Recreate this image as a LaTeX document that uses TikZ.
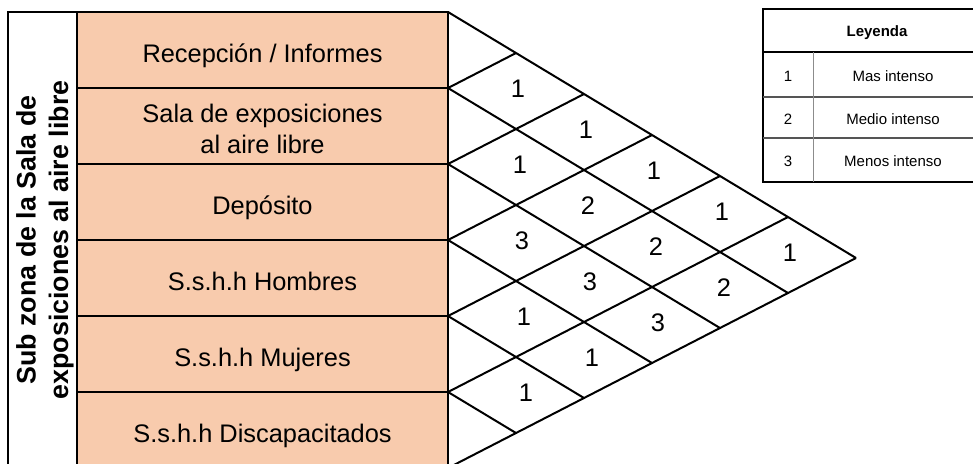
\documentclass[tikz,border=0pt]{standalone}
\usepackage{fontspec}
\setmainfont{Liberation Sans}
\usetikzlibrary{positioning,calc}
\definecolor{peach}{HTML}{F8CBAD}
\definecolor{legline}{HTML}{555555}
\definecolor{legsplit}{HTML}{8C8C8C}

\begin{document}
\begin{tikzpicture}[
  x=0.5pt, y=-0.5pt,
  line width=1pt,
  rowbox/.style={draw, fill=peach, anchor=north west, outer sep=0pt, inner sep=0pt,
                 minimum width=185.5pt, minimum height=38pt},
  rowtext/.style={inner sep=0pt, align=center, text depth=0pt,
                  font=\fontsize{12.7}{15.5}\selectfont},
  titlebox/.style={draw, anchor=north west, outer sep=0pt,
                   minimum width=34.5pt, minimum height=234pt},
  titletext/.style={rotate=90, align=center, inner sep=0pt,
                    font=\bfseries\fontsize{13.4}{16.2}\selectfont},
  gridline/.style={line width=1pt, line join=miter},
  num/.style={inner sep=0pt, font=\fontsize{12.7}{15}\selectfont},
  legtitle/.style={inner sep=0pt, font=\bfseries\fontsize{7.5}{9}\selectfont},
  legtext/.style={inner sep=0pt, font=\fontsize{7.5}{9}\selectfont},
]
\useasboundingbox (0,0) rectangle (973,463);
\clip (0,0) rectangle (973,463);

%% ---- side title -----------------------------------------------------------
\node[titlebox] (side) at (8,12) {};
\node[titletext] (title) at (45,240) {Sub zona de la Sala de\\exposiciones al aire libre};

%% ---- rows (second value: text height, one or two lines) -------------------
\foreach \txt/\h [count=\i from 0] in {{Recepción / Informes}/9.1,
    {Sala de exposiciones\\al aire libre}/24.6, {Depósito}/9.1,
    {S.s.h.h Hombres}/9.1, {S.s.h.h Mujeres}/9.1,
    {S.s.h.h Discapacitados}/9.1} {
  \node[rowbox] (row\i) at (77,{12+76*\i}) {};
  \node[rowtext, text height=\h pt] (lab\i) at ($(row\i.center)+(0,3)$) {\txt};
}

%% ---- matrix points: row edges, top side, bottom side ----------------------
\foreach \k in {0,...,6} {
  \coordinate (p\k) at (448,{12+76*\k});
  \coordinate (t\k) at ({448+68*\k},{12+41*\k});
  \coordinate (b\k) at ({448+68*\k},{468-35*\k});
}

%% ---- matrix lines ---------------------------------------------------------
\foreach \k [evaluate=\k as \m using int(6-\k)] in {0,...,5}
  \draw[gridline] (p\k) -- (b\m);
\foreach \k in {1,...,6}
  \draw[gridline] (p\k) -- (t\k);

%% ---- relation values ------------------------------------------------------
\foreach \r/\s/\v in {0/1/1, 0/2/1, 0/3/1, 0/4/1, 0/5/1,
                      1/2/1, 1/3/2, 1/4/2, 1/5/2,
                      2/3/3, 2/4/3, 2/5/3,
                      3/4/1, 3/5/1,
                      4/5/1}
  \node[num] (v\r\s) at ({450+68*(\s-\r)+2*\r},{48+76*\r+41*(\s-\r)}) {\v};

%% ---- legend ---------------------------------------------------------------
\draw[line width=1pt] (763,9) rectangle (990,182);
\draw[line width=1pt] (763,52) -- (990,52);
\draw[line width=0.8pt, legline] (763,97) -- (990,97);
\draw[line width=0.8pt, legline] (763,138) -- (990,138);
\draw[line width=0.5pt, legsplit] (813,52) -- (813,182);
\node[legtitle] (ley) at (877,33) {Leyenda};
\foreach \n/\d/\y in {1/Mas intenso/76, 2/Medio intenso/119, 3/Menos intenso/161} {
  \node[legtext] (key\n) at (788,\y) {\n};
  \node[legtext] (desc\n) at (893,\y) {\d};
}

\end{tikzpicture}
\end{document}
